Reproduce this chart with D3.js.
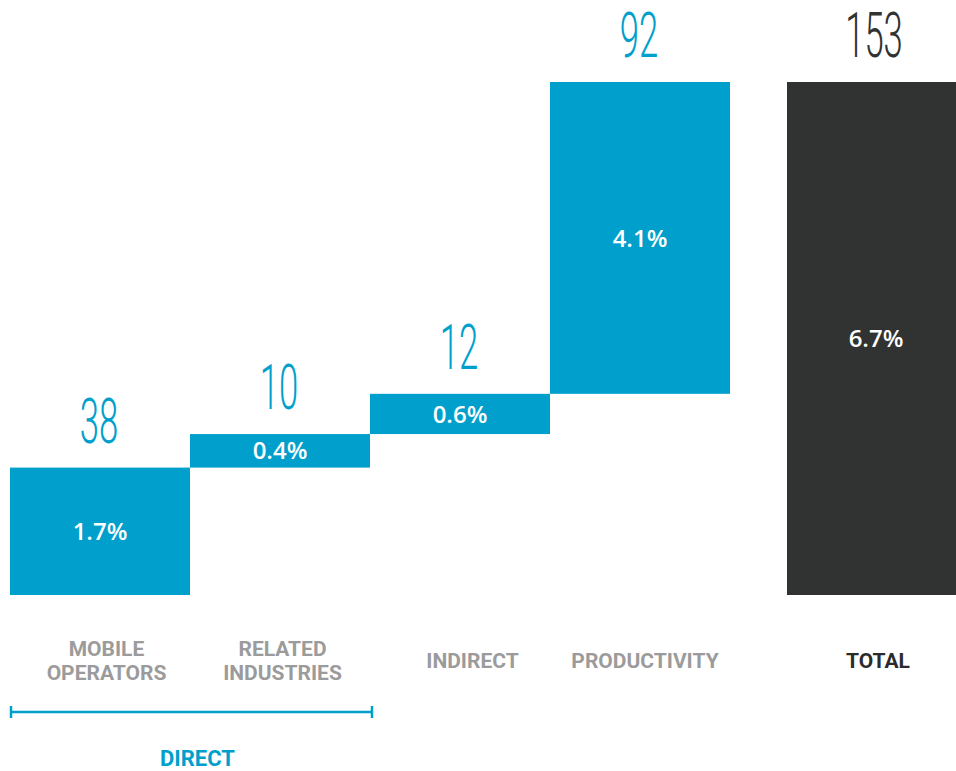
<!DOCTYPE html>
<html>
<head>
<meta charset="utf-8">
<script src="https://cdn.jsdelivr.net/npm/d3@7"></script>
<style>
  html, body { margin: 0; padding: 0; background: #fff; }
  svg { display: block; }
</style>
</head>
<body>
<svg id="chart" width="956" height="771"></svg>
<script>
const categories = ["MOBILE\nOPERATORS", "RELATED\nINDUSTRIES", "INDIRECT", "PRODUCTIVITY"];
const values = [38, 10, 12, 92];
const shares = ["1.7%", "0.4%", "0.6%", "4.1%"];
const totalLabel = "TOTAL";
const totalValue = 153;
const totalShare = "6.7%";
const groupLabel = "DIRECT";
const groupMembers = [0, 1];

// layout-only horizontal nudges for category labels
const labelNudge = [6.5, 2.5, 12.5, 5];

const BLUE = "#009fcc", DARK = "#313232", GRAY = "#9b9b9b";
const svg = d3.select("#chart");

const x = d3.scaleBand().domain(categories).range([10, 730]).padding(0);
const totalX = 787, totalW = x.bandwidth();
const y = d3.scaleLinear().domain([0, totalValue]).range([595, 82]);

let cum = 0;
const rows = categories.map((c, i) => {
  const r = { cat: c, i, v: values[i], share: shares[i], y0: cum, y1: cum + values[i] };
  cum += values[i];
  return r;
});
rows[rows.length - 1].y1 = totalValue;

const g = svg.append("g");

g.selectAll("rect.step").data(rows).join("rect")
  .attr("class", "step")
  .attr("x", d => x(d.cat))
  .attr("width", x.bandwidth())
  .attr("y", d => y(d.y1))
  .attr("height", d => y(d.y0) - y(d.y1))
  .attr("fill", BLUE);

g.append("rect")
  .attr("x", totalX).attr("width", totalW)
  .attr("y", y(totalValue)).attr("height", y(0) - y(totalValue))
  .attr("fill", DARK);

const numFont = "Roboto, 'Liberation Sans Narrow', sans-serif";
function bigNum(sel, cx, baseline, txt, color) {
  sel.append("text")
    .attr("transform", `translate(${cx},${baseline}) scale(0.55,1)`)
    .attr("text-anchor", "middle")
    .attr("font-family", numFont)
    .attr("font-weight", 300)
    .attr("font-size", 63)
    .attr("fill", color)
    .text(txt);
}
rows.forEach(d => bigNum(g, x(d.cat) + x.bandwidth() / 2 - 1, y(d.y1) - 25, d.v, BLUE));
bigNum(g, totalX + 87, y(totalValue) - 25, totalValue, DARK);

const pctFont = "'Open Sans', sans-serif";
g.selectAll("text.pct").data(rows).join("text")
  .attr("class", "pct")
  .attr("x", d => x(d.cat) + x.bandwidth() / 2)
  .attr("y", d => (y(d.y0) + y(d.y1)) / 2)
  .attr("dy", "0.36em")
  .attr("text-anchor", "middle")
  .attr("font-family", pctFont).attr("font-weight", 600).attr("font-size", 24)
  .attr("fill", "#fff")
  .text(d => d.share);
g.append("text")
  .attr("x", totalX + 89).attr("y", (y(0) + y(totalValue)) / 2).attr("dy", "0.36em")
  .attr("text-anchor", "middle")
  .attr("font-family", pctFont).attr("font-weight", 600).attr("font-size", 24)
  .attr("fill", "#fff").text(totalShare);

const labFont = "Roboto, 'Open Sans', sans-serif";
function catLabel(cx, txt, color) {
  const lines = txt.split("\n");
  const t = g.append("text")
    .attr("text-anchor", "middle")
    .attr("font-family", labFont).attr("font-weight", 700).attr("font-size", 21)
    .attr("fill", color);
  const first = lines.length === 1 ? 668 : 656;
  lines.forEach((l, i) => t.append("tspan").attr("x", cx).attr("y", first + i * 24).text(l));
}
rows.forEach(d => catLabel(x(d.cat) + x.bandwidth() / 2 + labelNudge[d.i], d.cat, GRAY));
catLabel(totalX + 91, totalLabel, "#2b2b2b");

const bx0 = x(categories[groupMembers[0]]) + 1;
const bx1 = x(categories[groupMembers[groupMembers.length - 1]]) + x.bandwidth() + 2;
const by = 712;
g.append("line").attr("x1", bx0).attr("x2", bx1).attr("y1", by).attr("y2", by)
  .attr("stroke", BLUE).attr("stroke-width", 2.5);
[bx0, bx1].forEach(bx => g.append("line").attr("x1", bx).attr("x2", bx)
  .attr("y1", by - 6).attr("y2", by + 6).attr("stroke", BLUE).attr("stroke-width", 2.5));
g.append("text")
  .attr("x", (bx0 + bx1) / 2 + 6).attr("y", 766)
  .attr("text-anchor", "middle")
  .attr("font-family", labFont).attr("font-weight", 700).attr("font-size", 22)
  .attr("fill", BLUE).text(groupLabel);
</script>
</body>
</html>
